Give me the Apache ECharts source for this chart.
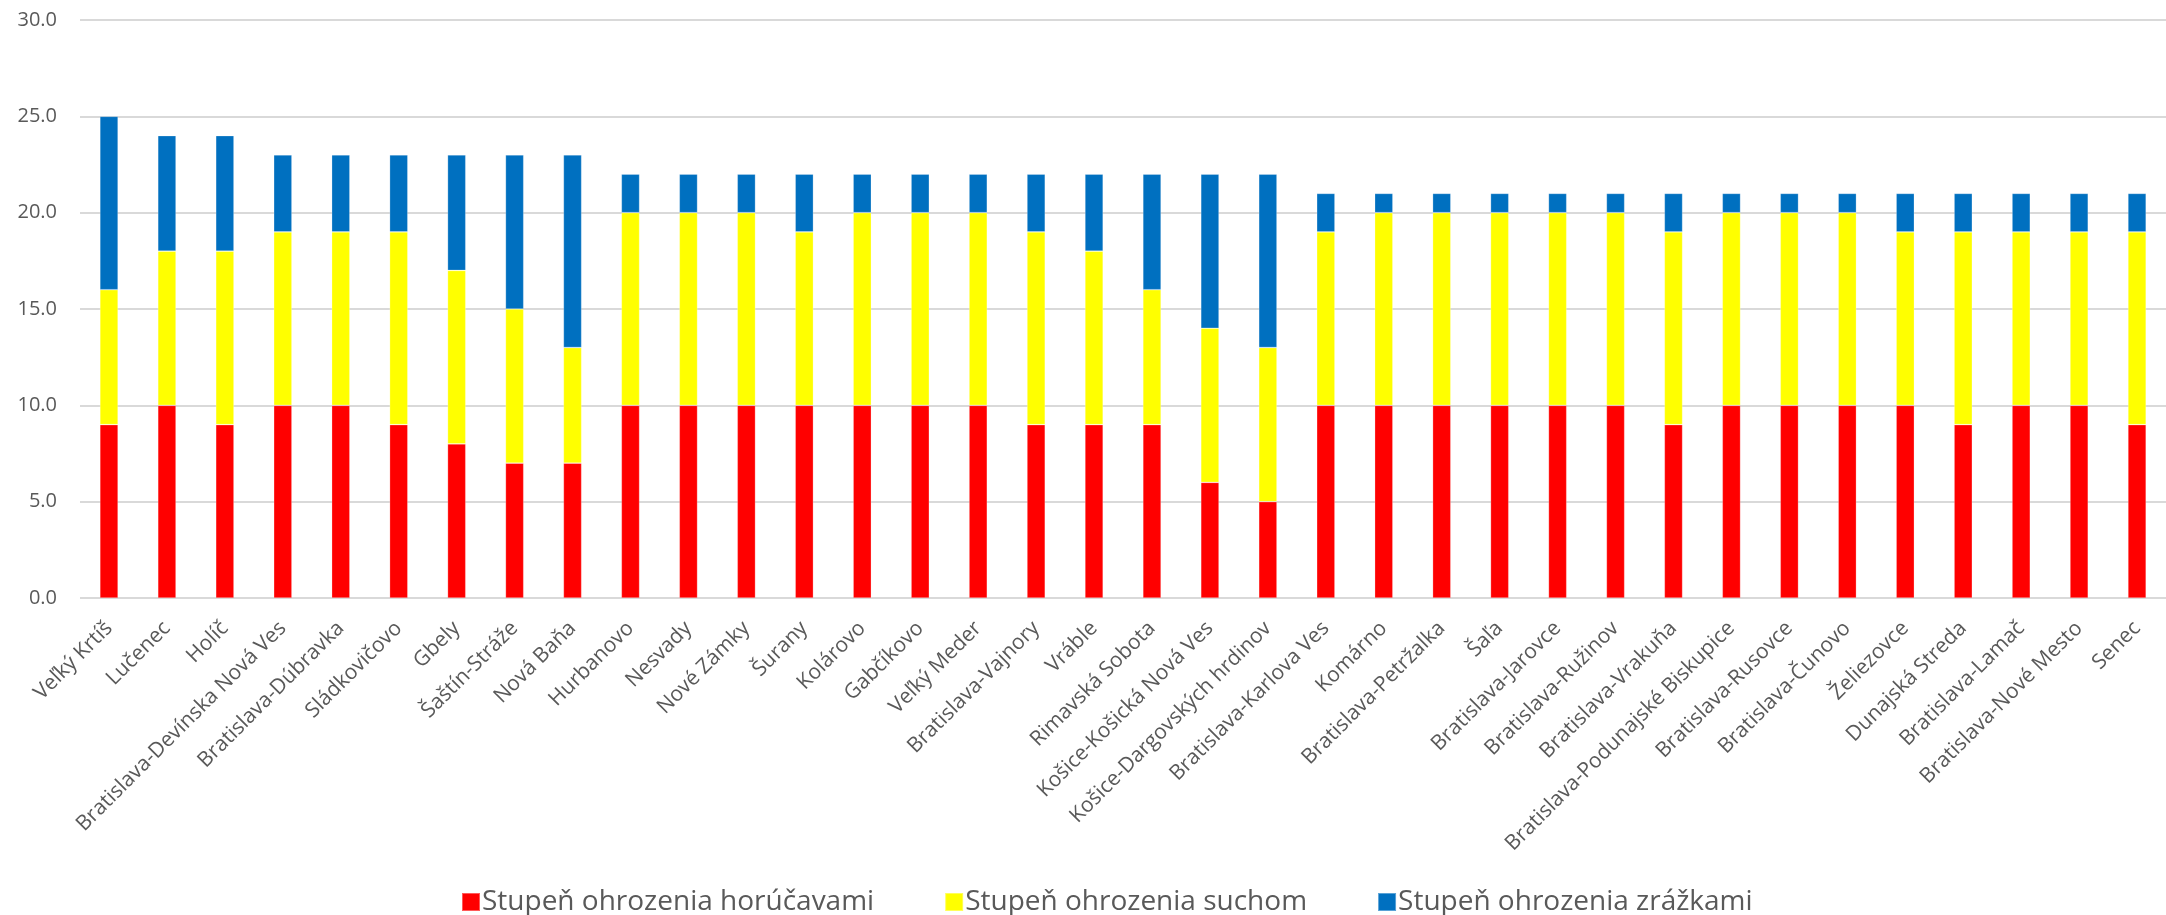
<!DOCTYPE html>
<html>
<head>
<meta charset="utf-8">
<script src="https://cdn.jsdelivr.net/npm/echarts@6/dist/echarts.min.js"></script>
<style>
html,body{margin:0;padding:0;background:#fff;}
#chart{width:2166px;height:915px;}
</style>
</head>
<body>
<div id="chart"></div>
<script>
const categories = [
  "Veľký Krtíš","Lučenec","Holíč","Bratislava-Devínska Nová Ves","Bratislava-Dúbravka",
  "Sládkovičovo","Gbely","Šaštín-Stráže","Nová Baňa","Hurbanovo","Nesvady","Nové Zámky",
  "Šurany","Kolárovo","Gabčíkovo","Veľký Meder","Bratislava-Vajnory","Vráble",
  "Rimavská Sobota","Košice-Košická Nová Ves","Košice-Dargovských hrdinov",
  "Bratislava-Karlova Ves","Komárno","Bratislava-Petržalka","Šaľa","Bratislava-Jarovce",
  "Bratislava-Ružinov","Bratislava-Vrakuňa","Bratislava-Podunajské Biskupice",
  "Bratislava-Rusovce","Bratislava-Čunovo","Želiezovce","Dunajská Streda",
  "Bratislava-Lamač","Bratislava-Nové Mesto","Senec"
];
const seriesNames = ["Stupeň ohrozenia horúčavami","Stupeň ohrozenia suchom","Stupeň ohrozenia zrážkami"];
const heat    = [9,10,9,10,10,9,8,7,7,10,10,10,10,10,10,10,9,9,9,6,5,10,10,10,10,10,10,9,10,10,10,10,9,10,10,9];
const drought = [7,8,9,9,9,10,9,8,6,10,10,10,9,10,10,10,10,9,7,8,8,9,10,10,10,10,10,10,10,10,10,9,10,9,9,10];
const rain    = [9,6,6,4,4,4,6,8,10,2,2,2,3,2,2,2,3,4,6,8,9,2,1,1,1,1,1,2,1,1,1,2,2,2,2,2];
const yTicks = {min:0, max:30, interval:5};
const colors = ["#FF0000","#FFFF00","#0070C0"];

const FONT = "Open Sans";
const chart = echarts.init(document.getElementById('chart'), null, {renderer:'canvas'});
const mk = (name, data, color) => ({
  name, type:'bar', stack:'total', data, barWidth:'31.5%',
  itemStyle:{color, borderColor:'rgba(255,255,255,0.35)', borderWidth:0.7},
  emphasis:{disabled:true}
});
chart.setOption({
  animation:false,
  textStyle:{fontFamily:FONT},
  grid:{left:80, top:20, width:2095, height:578, containLabel:false},
  xAxis:{
    type:'category', data:categories,
    axisLine:{show:false}, axisTick:{show:false},
    axisLabel:{interval:0, rotate:45, fontSize:21, color:'#595959', fontFamily:FONT, margin:27, padding:[18,0,0,0]}
  },
  yAxis:{
    type:'value', min:yTicks.min, max:yTicks.max, interval:yTicks.interval,
    axisLine:{show:false}, axisTick:{show:false},
    axisLabel:{fontSize:20, color:'#595959', fontFamily:FONT, margin:23,
      formatter:v=>v.toFixed(1)},
    splitLine:{lineStyle:{color:'#D9D9D9', width:2}}
  },
  legend:{
    data:seriesNames, left:461, top:888, padding:0,
    itemWidth:18, itemHeight:18, itemGap:70,
    icon:'rect',
    textStyle:{fontSize:28, color:'#595959', fontFamily:FONT, padding:[0,0,0,-3]}
  },
  series:[
    mk(seriesNames[0], heat, colors[0]),
    mk(seriesNames[1], drought, colors[1]),
    mk(seriesNames[2], rain, colors[2])
  ]
});
</script>
</body>
</html>
